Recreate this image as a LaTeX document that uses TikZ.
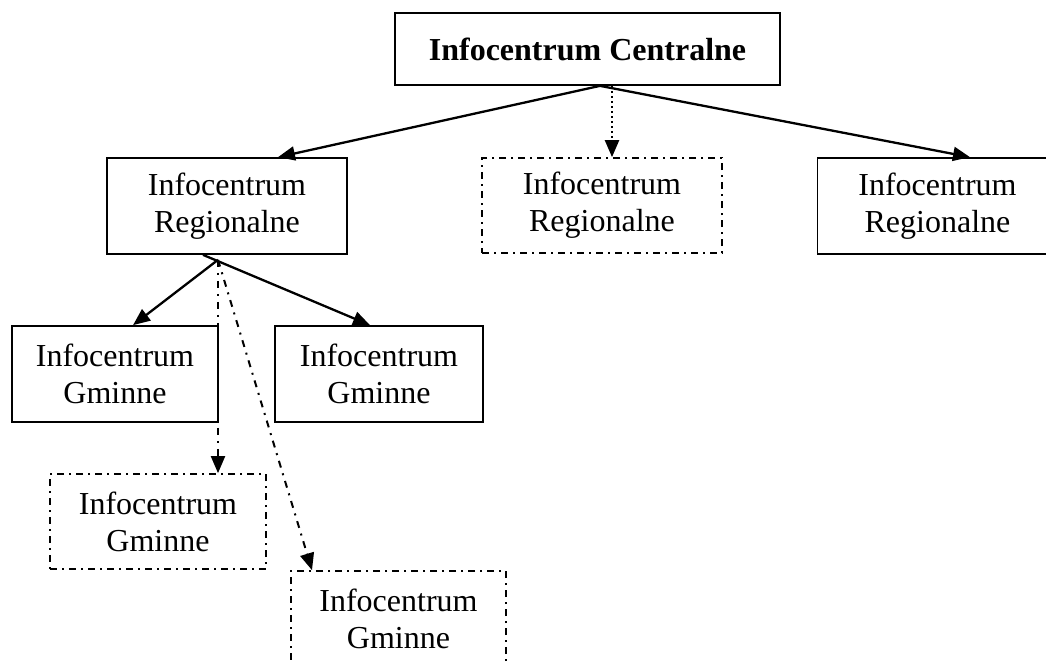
\documentclass[tikz,border=0pt]{standalone}
\usepackage{fontspec}
\setmainfont{Liberation Serif}
\usetikzlibrary{arrows.meta}
\begin{document}
\begin{tikzpicture}[x=1pt,y=-1pt,
  box/.style={draw, line width=1.7pt, align=center, inner sep=0pt,
    font=\fontsize{32}{37}\selectfont, minimum height=96pt},
  dbox/.style={box, dash pattern=on 7pt off 5pt on 2pt off 5pt},
  conn/.style={line width=2.3pt, -{Triangle[length=17pt,width=14pt]}},
  dotconn/.style={conn, line width=2.2pt, dash pattern=on 2pt off 3pt},
  dashdotconn/.style={conn, line width=2pt, dash pattern=on 7pt off 6pt on 2pt off 6pt}
]
\useasboundingbox (0,0) rectangle (1046,664);
\fill[white] (0,0) rectangle (1046,664);

\node[box, minimum width=385pt, minimum height=72pt, font=\fontsize{32}{37}\selectfont\bfseries] (top) at (587.5,49) {Infocentrum Centralne};

\node[box, minimum width=240pt] (regL) at (227,206) {Infocentrum\\Regionalne};
\node[dbox, minimum width=240pt, minimum height=95pt] (regM) at (602,205.5) {Infocentrum\\Regionalne};
\node[box, minimum width=240pt] (regR) at (937.5,206) {Infocentrum\\Regionalne};

\node[box, minimum width=206pt] (gm1) at (115,374) {Infocentrum\\Gminne};
\node[box, minimum width=208pt] (gm2) at (379,374) {Infocentrum\\Gminne};
\node[dbox, minimum width=216pt, minimum height=95pt] (gm3) at (158,521.5) {Infocentrum\\Gminne};
\node[dbox, minimum width=215pt] (gm4) at (398.5,619) {Infocentrum\\Gminne};

\coordinate (hub) at ([xshift=-9pt,yshift=-5pt]regL.south);

\draw[conn] ([xshift=12.5pt]top.south) -- ([xshift=51pt]regL.north);
\draw[dotconn] ([xshift=24.5pt]top.south) -- ([xshift=10pt]regM.north);
\draw[conn] ([xshift=12.5pt]top.south) -- ([xshift=32.5pt]regR.north);

\draw[conn] (hub) -- ([xshift=18pt]gm1.north);
\draw[conn] ([xshift=-24pt]regL.south) -- ([xshift=-9pt]gm2.north);
\draw[dashdotconn] (hub) -- ([xshift=60pt]gm3.north);
\draw[dashdotconn] (hub) -- ([xshift=-86.5pt]gm4.north);
\end{tikzpicture}
\end{document}
